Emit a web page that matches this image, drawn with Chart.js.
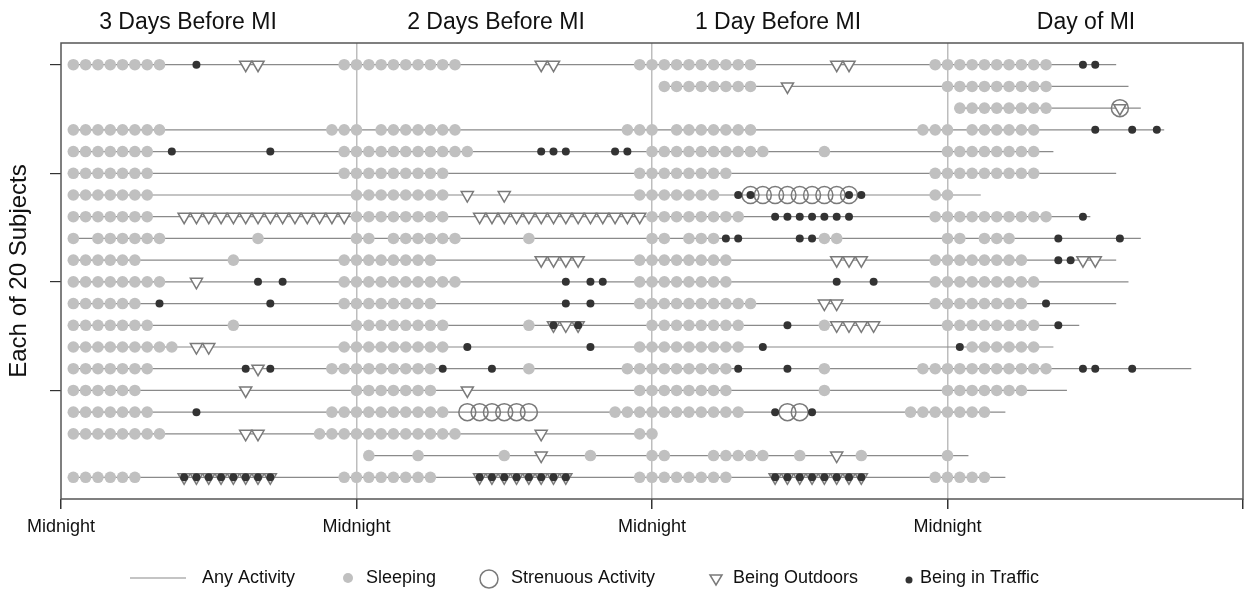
<!DOCTYPE html>
<html>
<head>
<meta charset="utf-8">
<script src="https://cdn.jsdelivr.net/npm/chart.js@4.4.1/dist/chart.umd.min.js"></script>
<style>
  body { margin: 0; background: #fff; }
  canvas { display: block; }
</style>
</head>
<body>
<canvas id="miChart" width="1249" height="613"></canvas>
<script>
// hours counted from midnight 3 days before the MI (0..96)
const dayTitles = ['3 Days Before MI', '2 Days Before MI', '1 Day Before MI', 'Day of MI'];
const xTickValues = [0, 24, 48, 72, 96];
const xTickLabels = ['Midnight', 'Midnight', 'Midnight', 'Midnight', ''];
const yTickValues = [1, 6, 11, 16];

// [start, end] of any recorded activity for each of the 20 subjects (top to bottom)
const activitySpans = [
  [1, 85.7], [49, 86.7], [73, 87.7], [1, 89.6], [1, 80.6],
  [1, 85.7], [1, 74.7], [1, 83.6], [1, 87.7], [1, 85.7],
  [1, 86.7], [1, 85.7], [1, 82.7], [1, 80.6], [1, 91.8],
  [1, 81.7], [1, 76.7], [1, 48], [25, 73.7], [1, 76.7]
];

const sleepingHours = [
  [1, 2, 3, 4, 5, 6, 7, 8, 23, 24, 25, 26, 27, 28, 29, 30, 31, 32, 47, 48, 49, 50, 51, 52, 53, 54, 55, 56, 71, 72, 73, 74, 75, 76, 77, 78, 79, 80],
  [49, 50, 51, 52, 53, 54, 55, 56, 72, 73, 74, 75, 76, 77, 78, 79, 80],
  [73, 74, 75, 76, 77, 78, 79, 80],
  [1, 2, 3, 4, 5, 6, 7, 8, 22, 23, 24, 26, 27, 28, 29, 30, 31, 32, 46, 47, 48, 50, 51, 52, 53, 54, 55, 56, 70, 71, 72, 74, 75, 76, 77, 78, 79],
  [1, 2, 3, 4, 5, 6, 7, 23, 24, 25, 26, 27, 28, 29, 30, 31, 32, 33, 48, 49, 50, 51, 52, 53, 54, 55, 56, 57, 62, 72, 73, 74, 75, 76, 77, 78, 79],
  [1, 2, 3, 4, 5, 6, 7, 23, 24, 25, 26, 27, 28, 29, 30, 31, 47, 48, 49, 50, 51, 52, 53, 54, 71, 72, 73, 74, 75, 76, 77, 78, 79],
  [1, 2, 3, 4, 5, 6, 7, 24, 25, 26, 27, 28, 29, 30, 31, 47, 48, 49, 50, 51, 52, 53, 71, 72],
  [1, 2, 3, 4, 5, 6, 7, 24, 25, 26, 27, 28, 29, 30, 31, 48, 49, 50, 51, 52, 53, 54, 55, 71, 72, 73, 74, 75, 76, 77, 78, 79, 80],
  [1, 3, 4, 5, 6, 7, 8, 16, 24, 25, 27, 28, 29, 30, 31, 32, 38, 48, 49, 51, 52, 53, 62, 63, 72, 73, 75, 76, 77],
  [1, 2, 3, 4, 5, 6, 14, 23, 24, 25, 26, 27, 28, 29, 30, 47, 48, 49, 50, 51, 52, 53, 54, 71, 72, 73, 74, 75, 76, 77, 78],
  [1, 2, 3, 4, 5, 6, 7, 8, 23, 24, 25, 26, 27, 28, 29, 30, 31, 32, 47, 48, 49, 50, 51, 52, 53, 54, 71, 72, 73, 74, 75, 76, 77, 78, 79],
  [1, 2, 3, 4, 5, 6, 23, 24, 25, 26, 27, 28, 29, 30, 47, 48, 49, 50, 51, 52, 53, 54, 55, 56, 71, 72, 73, 74, 75, 76, 77, 78],
  [1, 2, 3, 4, 5, 6, 7, 14, 24, 25, 26, 27, 28, 29, 30, 31, 38, 48, 49, 50, 51, 52, 53, 54, 55, 62, 72, 73, 74, 75, 76, 77, 78, 79],
  [1, 2, 3, 4, 5, 6, 7, 8, 9, 23, 24, 25, 26, 27, 28, 29, 30, 31, 47, 48, 49, 50, 51, 52, 53, 54, 55, 74, 75, 76, 77, 78, 79],
  [1, 2, 3, 4, 5, 6, 7, 22, 23, 24, 25, 26, 27, 28, 29, 30, 38, 46, 47, 48, 49, 50, 51, 52, 53, 54, 62, 70, 71, 72, 73, 74, 75, 76, 77, 78, 79, 80],
  [1, 2, 3, 4, 5, 6, 24, 25, 26, 27, 28, 29, 30, 47, 48, 49, 50, 51, 52, 53, 54, 62, 72, 73, 74, 75, 76, 77, 78],
  [1, 2, 3, 4, 5, 6, 7, 22, 23, 24, 25, 26, 27, 28, 29, 30, 31, 45, 46, 47, 48, 49, 50, 51, 52, 53, 54, 55, 69, 70, 71, 72, 73, 74, 75],
  [1, 2, 3, 4, 5, 6, 7, 8, 21, 22, 23, 24, 25, 26, 27, 28, 29, 30, 31, 32, 47, 48],
  [25, 29, 36, 43, 48, 49, 53, 54, 55, 56, 57, 60, 65, 72],
  [1, 2, 3, 4, 5, 6, 23, 24, 25, 26, 27, 28, 29, 30, 47, 48, 49, 50, 51, 52, 53, 54, 71, 72, 73, 74, 75]
];

const strenuousHours = [
  [], [], [86], [], [],
  [], [56, 57, 58, 59, 60, 61, 62, 63, 64], [], [], [],
  [], [], [], [], [],
  [], [33, 34, 35, 36, 37, 38, 59, 60], [], [], []
];

const outdoorHours = [
  [15, 16, 39, 40, 63, 64], [59], [86], [], [],
  [], [33, 36], [10, 11, 12, 13, 14, 15, 16, 17, 18, 19, 20, 21, 22, 23, 34, 35, 36, 37, 38, 39, 40, 41, 42, 43, 44, 45, 46, 47], [], [39, 40, 41, 42, 63, 64, 65, 83, 84],
  [11], [62, 63], [40, 41, 42, 63, 64, 65, 66], [11, 12], [16],
  [15, 33], [], [15, 16, 39], [39, 63], [10, 11, 12, 13, 14, 15, 16, 17, 34, 35, 36, 37, 38, 39, 40, 41, 58, 59, 60, 61, 62, 63, 64, 65]
];

const trafficHours = [
  [11, 83, 84], [], [], [84, 87, 89], [9, 17, 39, 40, 41, 45, 46],
  [], [55, 56, 64, 65], [58, 59, 60, 61, 62, 63, 64, 83], [54, 55, 60, 61, 81, 86], [81, 82],
  [16, 18, 41, 43, 44, 63, 66], [8, 17, 41, 43, 80], [40, 42, 59, 81], [33, 43, 57, 73], [15, 17, 31, 35, 55, 59, 83, 84, 87],
  [], [11, 58, 61], [], [], [10, 11, 12, 13, 14, 15, 16, 17, 34, 35, 36, 37, 38, 39, 40, 41, 58, 59, 60, 61, 62, 63, 64, 65]
];

function toPoints(rows) {
  let pts = [];
  rows.forEach(function (hours, i) {
    hours.forEach(function (h) { pts.push({ x: h, y: i + 1 }); });
  });
  return pts;
}

function spanPoints(spans) {
  let pts = [];
  spans.forEach(function (s, i) {
    pts.push({ x: s[0], y: i + 1 });
    pts.push({ x: s[1], y: i + 1 });
    pts.push({ x: s[1], y: null });
  });
  return pts;
}

const FONT = '"Liberation Sans", Arial, sans-serif';
const LINE_GREY = '#8a8a8a';
const SLEEP_GREY = '#c0c0c0';
const MARK_GREY = '#7a7a7a';
const TRAFFIC = '#333333';

// box, day titles and the legend row are drawn after the chart
const decorPlugin = {
  id: 'decor',
  afterDraw(chart) {
    const c = chart.ctx;
    const a = chart.chartArea;
    c.save();
    c.strokeStyle = '#555';
    c.lineWidth = 1.5;
    c.strokeRect(a.left, a.top, a.right - a.left, a.bottom - a.top);

    c.fillStyle = '#111';
    c.font = '23px ' + FONT;
    c.textAlign = 'center';
    c.textBaseline = 'alphabetic';
    const titleX = [188, 496, 778, 1086];
    dayTitles.forEach(function (t, i) { c.fillText(t, titleX[i], 29); });

    // legend
    const ly = 578;
    c.font = '18px ' + FONT;
    c.textAlign = 'left';
    c.textBaseline = 'middle';
    c.strokeStyle = LINE_GREY;
    c.lineWidth = 1.2;
    c.beginPath(); c.moveTo(130, ly); c.lineTo(186, ly); c.stroke();
    c.fillText('Any Activity', 202, ly);

    c.fillStyle = SLEEP_GREY;
    c.beginPath(); c.arc(348, ly, 5, 0, Math.PI * 2); c.fill();
    c.fillStyle = '#111';
    c.fillText('Sleeping', 366, ly);

    c.strokeStyle = MARK_GREY;
    c.lineWidth = 1.5;
    c.beginPath(); c.arc(489, ly + 1, 9, 0, Math.PI * 2); c.stroke();
    c.fillText('Strenuous Activity', 511, ly);

    c.beginPath();
    c.moveTo(710, ly - 3); c.lineTo(722, ly - 3); c.lineTo(716, ly + 7); c.closePath();
    c.stroke();
    c.fillText('Being Outdoors', 733, ly);

    c.fillStyle = TRAFFIC;
    c.beginPath(); c.arc(909, ly + 2, 3.5, 0, Math.PI * 2); c.fill();
    c.fillStyle = '#111';
    c.fillText('Being in Traffic', 920, ly);
    c.restore();
  }
};

new Chart(document.getElementById('miChart'), {
  type: 'scatter',
  data: {
    datasets: [
      {
        type: 'line', label: 'Any Activity', data: spanPoints(activitySpans),
        borderColor: LINE_GREY, borderWidth: 1.2, pointRadius: 0, spanGaps: false, order: 5
      },
      {
        label: 'Sleeping', data: toPoints(sleepingHours),
        pointRadius: 5.8, backgroundColor: SLEEP_GREY, borderWidth: 0, order: 4
      },
      {
        label: 'Strenuous Activity', data: toPoints(strenuousHours),
        pointRadius: 8.5, backgroundColor: 'rgba(0,0,0,0)', borderColor: MARK_GREY, borderWidth: 1.5, order: 3
      },
      {
        label: 'Being Outdoors', data: toPoints(outdoorHours), pointStyle: 'triangle', rotation: 180,
        pointRadius: 7, backgroundColor: '#fff', borderColor: MARK_GREY, borderWidth: 1.5, order: 2
      },
      {
        label: 'Being in Traffic', data: toPoints(trafficHours),
        pointRadius: 4, backgroundColor: TRAFFIC, borderWidth: 0, order: 1
      }
    ]
  },
  options: {
    responsive: false,
    animation: false,
    devicePixelRatio: 1,
    events: [],
    layout: { autoPadding: false, padding: { top: 43, right: 6, left: 0, bottom: 0 } },
    plugins: { legend: { display: false }, tooltip: { enabled: false } },
    scales: {
      x: {
        type: 'linear', min: 0, max: 96,
        afterBuildTicks: function (s) { s.ticks = xTickValues.map(function (v) { return { value: v }; }); },
        afterFit: function (s) { s.height = 114; s.paddingLeft = 0; s.paddingRight = 0; },
        ticks: {
          autoSkip: false, maxRotation: 0, padding: 7, color: '#111',
          font: { family: FONT, size: 18 },
          callback: function (v) { return xTickLabels[xTickValues.indexOf(v)]; }
        },
        grid: {
          color: function (ctx) {
            return ctx.tick && [24, 48, 72].includes(ctx.tick.value) ? '#bdbdbd' : 'rgba(0,0,0,0)';
          },
          lineWidth: 1.5, tickColor: '#333', tickLength: 10
        },
        border: { display: false }
      },
      y: {
        type: 'linear', min: 0, max: 21, reverse: true,
        afterBuildTicks: function (s) { s.ticks = yTickValues.map(function (v) { return { value: v }; }); },
        afterFit: function (s) { s.width = 61; },
        ticks: { callback: function () { return ''; } },
        grid: { drawOnChartArea: false, tickColor: '#333', tickLength: 11, lineWidth: 1.2 },
        border: { display: false },
        title: {
          display: true, text: 'Each of 20 Subjects', color: '#111',
          font: { family: FONT, size: 24 }, padding: { top: 5, bottom: 0 }
        }
      }
    }
  },
  plugins: [decorPlugin]
});
</script>
</body>
</html>
